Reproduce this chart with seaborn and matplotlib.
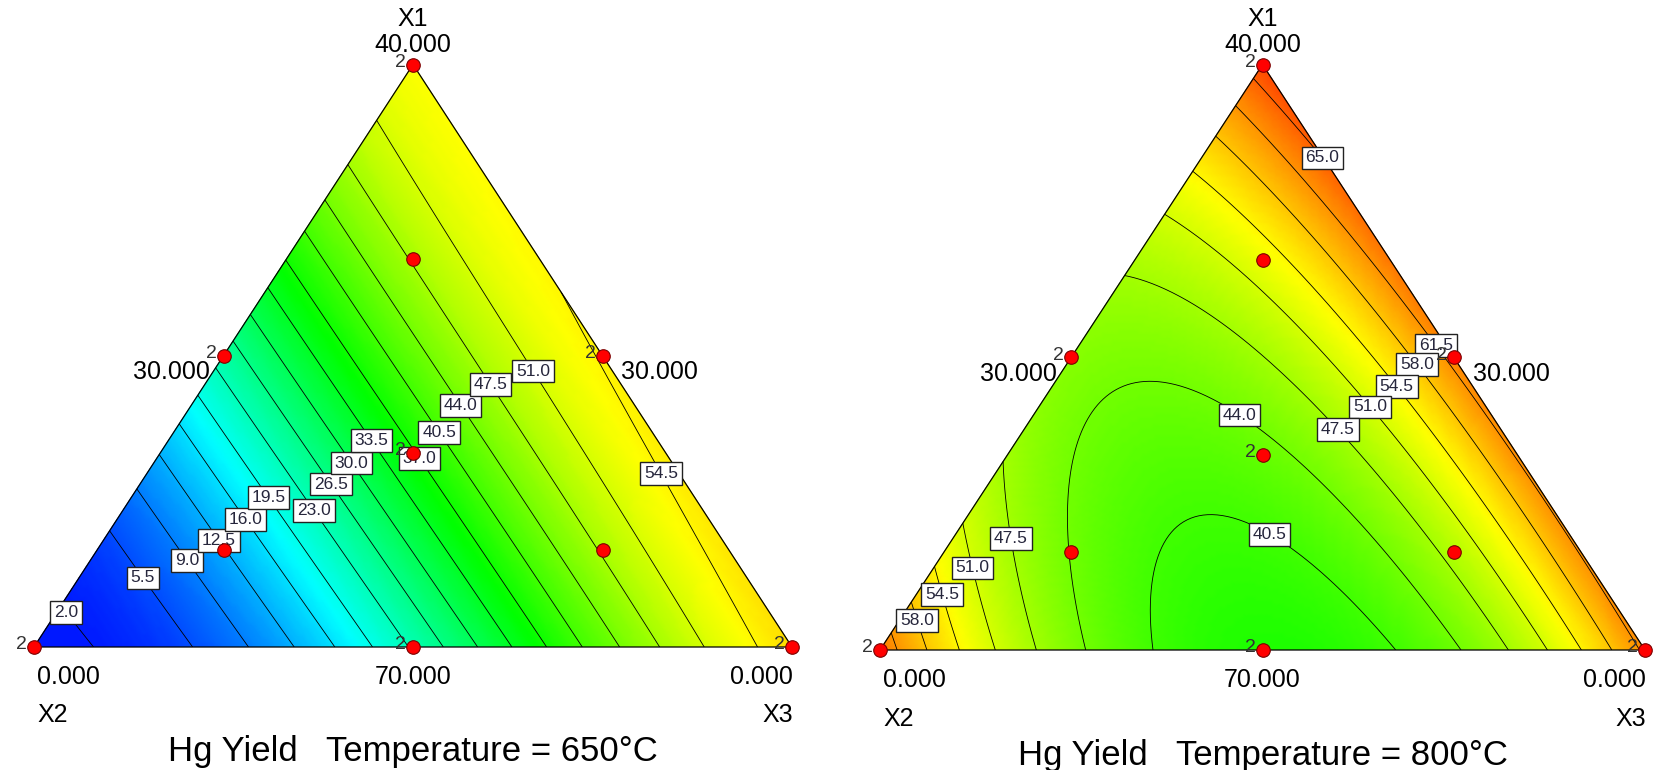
import numpy as np
import pandas as pd
import seaborn as sns
import matplotlib
matplotlib.use('Agg')
import matplotlib.pyplot as plt
import matplotlib.tri as mtri
from matplotlib.colors import LinearSegmentedColormap

# design points in pseudo components: X1 = top, X2 = bottom left, X3 = bottom right
x1_pts = [1.0, 0.0, 0.0, 0.5, 0.5, 0.0, 1/3, 2/3, 1/6, 1/6]
x3_pts = [0.0, 0.0, 1.0, 0.0, 0.5, 0.5, 1/3, 1/6, 1/6, 2/3]
reps = [2, 2, 2, 2, 2, 2, 2, 1, 1, 1]

# Hg yield read at the design points
hg_650 = [53.5, 1.0, 56.5, 24.0, 55.0, 23.0, 37.0, 47.5, 12.5, 47.5]
hg_800 = [66.5, 63.5, 62.5, 45.5, 62.0, 38.5, 44.0, 51.0, 44.0, 48.5]

levels_650 = [2.0, 5.5, 9.0, 12.5, 16.0, 19.5, 23.0, 26.5, 30.0, 33.5, 37.0, 40.5, 44.0, 47.5, 51.0, 54.5]
levels_800 = [40.5, 44.0, 47.5, 51.0, 54.5, 58.0, 61.5, 65.0]

# contour crossings read along the edges (650 C)
base650_x3 = [0.037, 0.19, 0.278, 0.347, 0.401, 0.452, 0.497, 0.542, 0.586, 0.628, 0.671, 0.718, 0.769, 0.822, 0.885, 0.967]
base650_lvl = levels_650
side650_x1 = [0.036, 0.183, 0.264, 0.334, 0.386, 0.437, 0.485, 0.525, 0.570, 0.616, 0.660, 0.708, 0.763, 0.826, 0.907]
side650_lvl = levels_650[:15]
right650_x1 = [0.568]
right650_lvl = [54.5]

# contour crossings read along the edges (800 C)
base800_x3 = [0.026, 0.064, 0.105, 0.150, 0.201, 0.263, 0.348, 0.676, 0.761, 0.822, 0.873, 0.918, 0.958]
base800_lvl = [61.5, 58.0, 54.5, 51.0, 47.5, 44.0, 40.5, 40.5, 44.0, 47.5, 51.0, 54.5, 58.0]
side800_x1 = [0.03, 0.078, 0.142, 0.214, 0.320, 0.634, 0.738, 0.813, 0.875, 0.927, 0.975]
side800_lvl = [61.5, 58.0, 54.5, 51.0, 47.5, 47.5, 51.0, 54.5, 58.0, 61.5, 65.0]
right800_x1 = [0.697]
right800_lvl = [65.0]

# where the contour labels sit (triangle frame: x across, y up)
labels_650 = [(0.024, 0.041), (0.140, 0.115), (0.206, 0.153), (0.253, 0.191), (0.289, 0.228),
              (0.321, 0.267), (0.377, 0.241), (0.400, 0.287), (0.426, 0.322), (0.450, 0.359),
              (0.513, 0.328), (0.538, 0.371), (0.566, 0.417), (0.608, 0.455), (0.665, 0.479),
              (0.836, 0.304)]
labels_800 = [(0.578, 0.840), (0.718, 0.512), (0.689, 0.475), (0.665, 0.439), (0.627, 0.400),
              (0.588, 0.364), (0.459, 0.379), (0.501, 0.179), (0.176, 0.191), (0.127, 0.142),
              (0.088, 0.097), (0.054, 0.053)]

sns.set_style('white')
plt.rcParams['font.family'] = ['Liberation Sans', 'DejaVu Sans']

cmap = LinearSegmentedColormap.from_list('de', ['#0000ff', '#00ffff', '#00ff00', '#ffff00', '#ff0000'])


def terms(x1, x3):
    x1 = np.asarray(x1, float)
    x3 = np.asarray(x3, float)
    x2 = 1 - x1 - x3
    return np.column_stack([x1, x2, x3, x1*x2, x1*x3, x2*x3, x1*x2*x3,
                            x1*x2*(x1-x2), x1*x3*(x1-x3), x2*x3*(x2-x3)])


def fit(hg, base_x3, base_lvl, side_x1, side_lvl, right_x1, right_lvl):
    x1 = list(x1_pts) + [0.0]*len(base_x3) + list(side_x1) + list(right_x1)
    x3 = list(x3_pts) + list(base_x3) + [0.0]*len(side_x1) + [1 - v for v in right_x1]
    y = list(hg) + list(base_lvl) + list(side_lvl) + list(right_lvl)
    coef, *_ = np.linalg.lstsq(terms(x1, x3), np.array(y), rcond=None)
    return coef


def to_xy(x1, x3):
    return np.asarray(x3) + np.asarray(x1) / 2, np.asarray(x1)


n = 160
ii, jj = np.meshgrid(np.arange(n + 1), np.arange(n + 1))
keep = ii + jj <= n
g1 = ii[keep] / n
g3 = jj[keep] / n
gx, gy = to_xy(g1, g3)
tri = mtri.Triangulation(gx, gy)


def panel(ax, coef, levels, label_at, temp):
    z = terms(g1, g3) @ coef
    ax.tripcolor(tri, z, shading='gouraud', cmap=cmap, vmin=0, vmax=72, zorder=1)
    cs = ax.tricontour(tri, z, levels=levels, colors='black', linewidths=0.6, zorder=2)
    txts = ax.clabel(cs, fmt='%.1f', manual=label_at, inline=False, fontsize=12.5, colors='#26263c')
    for t in txts:
        t.set_rotation(0)
        t.set_zorder(4)
        t.set_bbox(dict(boxstyle='square,pad=0.22', fc='white', ec='#222222', lw=1.0))
    ax.plot([0, 0.5, 1, 0], [0, 1, 0, 0], color='black', lw=0.9, clip_on=False, zorder=3)

    px, py = to_xy(x1_pts, x3_pts)
    pts = pd.DataFrame({'x': px, 'y': py, 'reps': reps})
    sns.scatterplot(data=pts, x='x', y='y', color='#ff0000', edgecolor='#7a0000', s=95,
                    linewidth=0.8, ax=ax, zorder=6, clip_on=False, legend=False)
    for x, y, r in zip(px, py, reps):
        if r > 1:
            ax.annotate('%d' % r, (x, y), xytext=(-5, 1.5), textcoords='offset points',
                        ha='right', va='center', fontsize=14, color='#333333', zorder=5,
                        annotation_clip=False)

    kw = dict(fontsize=18, color='black', va='center', clip_on=False)
    ax.text(0.5, 1.078, 'X1', ha='center', **kw)
    ax.text(0.5, 1.033, '40.000', ha='center', **kw)
    ax.text(0.181, 0.472, '30.000', ha='center', **kw)
    ax.text(0.825, 0.472, '30.000', ha='center', **kw)
    ax.text(0.004, -0.0515, '0.000', ha='left', **kw)
    ax.text(0.5, -0.0515, '70.000', ha='center', **kw)
    ax.text(1.001, -0.0515, '0.000', ha='right', **kw)
    ax.text(0.004, -0.117, 'X2', ha='left', **kw)
    ax.text(1.001, -0.117, 'X3', ha='right', **kw)
    ax.text(0.5, -0.18, 'Hg Yield   Temperature = %d°C' % temp, ha='center', va='center',
            fontsize=25, color='black', clip_on=False)

    ax.set_xlim(0, 1)
    ax.set_ylim(0, 1)
    ax.set_axis_off()


fig = plt.figure(figsize=(16.57, 7.70), dpi=100)
ax1 = fig.add_axes([34/1657, 123/770, 758/1657, 582.5/770])
ax2 = fig.add_axes([880/1657, 120/770, 765/1657, 585.5/770])

coef_650 = fit(hg_650, base650_x3, base650_lvl, side650_x1, side650_lvl, right650_x1, right650_lvl)
coef_800 = fit(hg_800, base800_x3, base800_lvl, side800_x1, side800_lvl, right800_x1, right800_lvl)

panel(ax1, coef_650, levels_650, labels_650, 650)
panel(ax2, coef_800, levels_800, labels_800, 800)

fig.savefig('out.png', dpi=100)
